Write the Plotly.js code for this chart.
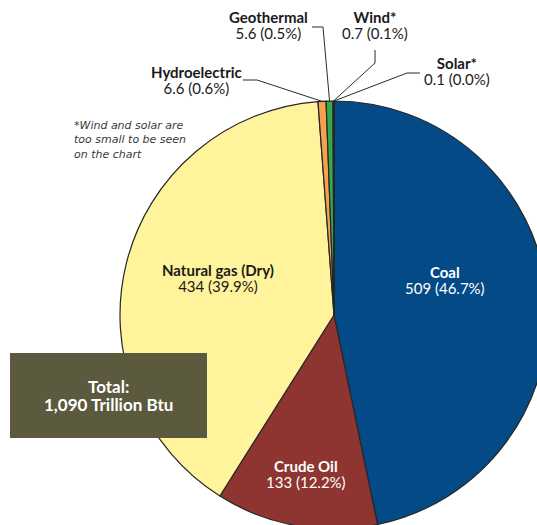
<!DOCTYPE html>
<html>
<head>
<meta charset="utf-8">
<script src="https://cdn.plot.ly/plotly-3.0.1.min.js"></script>
<style>
html,body{margin:0;padding:0;overflow:hidden;background:#fff;width:537px;height:525px;}
#chart{width:560px;height:545px;}
</style>
</head>
<body>
<div id="chart"></div>
<script>
// Data
const categories = ["Coal", "Crude Oil", "Natural gas (Dry)", "Hydroelectric", "Geothermal", "Wind*", "Solar*"];
const values = [509, 133, 434, 6.6, 5.6, 0.7, 0.1];
const percentLabels = ["46.7%", "12.2%", "39.9%", "0.6%", "0.5%", "0.1%", "0.0%"];
const valueLabels = ["509", "133", "434", "6.6", "5.6", "0.7", "0.1"];
const sliceColors = ["#034a87", "#8e3531", "#fff39b", "#f5a24f", "#35aa4b", "#35aa4b", "#034a87"];
const totalLabel = ["Total:", "1,090 Trillion Btu"];
const footnote = ["*Wind and solar are", "too small to be seen", "on the chart"];

// Layout geometry (pixels)
const W = 560, H = 545;
const cx = 334, cy = 315, R = 214;
const px = x => x / W;
const py = y => 1 - y / H;

const total = values.reduce((a, b) => a + b, 0);
const mids = [];
let cum = 0;
values.forEach(v => { mids.push((cum + v / 2) / total * 2 * Math.PI); cum += v; });
const edgePt = i => [cx + R * Math.sin(mids[i]), cy - R * Math.cos(mids[i])];

const trace = {
  type: "pie",
  labels: categories,
  values: values,
  sort: false,
  direction: "clockwise",
  rotation: 0,
  textinfo: "none",
  hoverinfo: "label+value+percent",
  marker: { colors: sliceColors, line: { color: "#262626", width: 1.2 } },
  domain: { x: [px(cx - R), px(cx + R)], y: [py(cy + R), py(cy - R)] },
  showlegend: false
};

const FAM = "Lato, 'Open Sans', sans-serif";
const annotations = [];
// two-line text; line spacing = 1.3 * base size, glyphs drawn at 'size'
function txt2(x, yMid, line1, line2, size, spacing, color) {
  const span = s => '<span style="font-size:' + size + 'px">' + s + '</span>';
  annotations.push({ xref: "paper", yref: "paper", x: px(x), y: py(yMid), showarrow: false,
    xanchor: "center", yanchor: "middle", align: "center", borderpad: 0,
    text: span(line1) + "<br>" + span(line2),
    font: { family: FAM, size: spacing / 1.3, color: color } });
}
function label(i, x, y, color) {
  txt2(x, y + 8, "<b>" + categories[i] + "</b>",
       valueLabels[i] + " (" + percentLabels[i] + ")", 15, 16, color || "#1a1a1a");
}
label(0, 445, 272, "#ffffff");
label(1, 306, 466, "#ffffff");
label(2, 218, 270);
label(3, 196, 72);
label(4, 268, 17);
label(5, 375, 17);
label(6, 457, 63);

// footnote
annotations.push({ xref: "paper", yref: "paper", x: px(72), y: py(117), showarrow: false,
  xanchor: "left", yanchor: "top", align: "left",
  text: footnote.map(s => "<i>" + s + "</i>").join("<br>"),
  font: { family: "'DejaVu Sans', sans-serif", size: 11, color: "#3a3a3a" } });

// total box text
txt2(108.5, 395, "<b>" + totalLabel[0] + "</b>", "<b>" + totalLabel[1] + "</b>", 17, 18, "#ffffff");

// leader lines
function path(points) {
  return "M " + points.map(p => px(p[0]) + "," + py(p[1])).join(" L ");
}
const lineStyle = { color: "#2b2b2b", width: 1 };
const shapes = [
  { type: "rect", xref: "paper", yref: "paper", x0: px(10), x1: px(207), y0: py(438), y1: py(353),
    fillcolor: "#5c5a3e", line: { width: 0 }, layer: "above" },
  { type: "path", xref: "paper", yref: "paper", path: path([[243, 80], [257, 80], edgePt(3)]), line: lineStyle },
  { type: "path", xref: "paper", yref: "paper", path: path([[312, 27], [323, 27], edgePt(4)]), line: lineStyle },
  { type: "path", xref: "paper", yref: "paper", path: path([[375, 50], [375, 63], edgePt(5)]), line: lineStyle },
  { type: "path", xref: "paper", yref: "paper", path: path([[420, 73], [407, 73], edgePt(6)]), line: lineStyle }
];

const layout = {
  width: W, height: H,
  margin: { l: 0, r: 0, t: 0, b: 0 },
  paper_bgcolor: "#ffffff",
  showlegend: false,
  annotations: annotations,
  shapes: shapes
};

Plotly.newPlot("chart", [trace], layout, { displayModeBar: false, staticPlot: true });
</script>
</body>
</html>
